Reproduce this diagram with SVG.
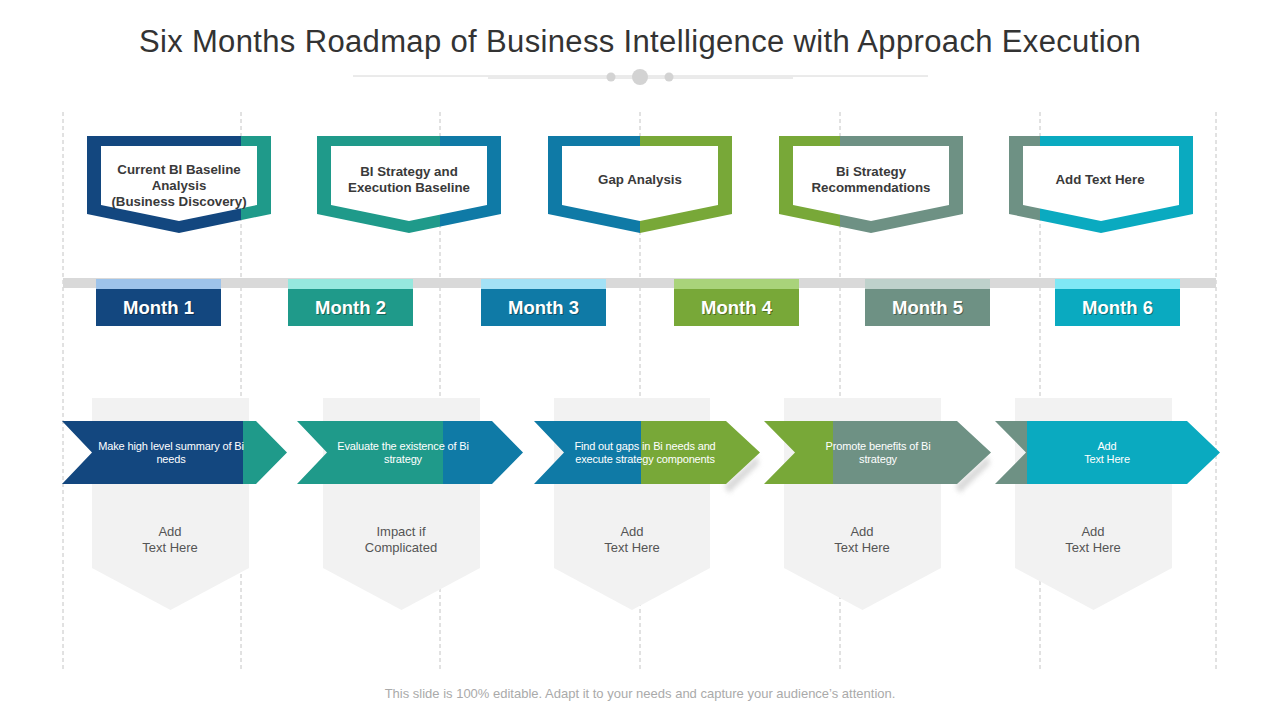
<svg xmlns="http://www.w3.org/2000/svg" width="1280" height="720" viewBox="0 0 1280 720">
<defs>
<style>
.dash{stroke:#c4c4c4;stroke-width:1;stroke-dasharray:4 3;fill:none}
.title{font-family:"Liberation Sans",Arial,sans-serif;font-size:31px;fill:#333;text-anchor:middle;letter-spacing:0.35px}
.btxt{font-family:"Liberation Sans",Arial,sans-serif;font-size:13.3px;font-weight:bold;fill:#3a3a3a;text-anchor:middle}
.mtxt{font-family:"Liberation Sans",Arial,sans-serif;font-size:18.5px;font-weight:bold;fill:#fff;text-anchor:middle}
.mshadow{font-family:"Liberation Sans",Arial,sans-serif;font-size:18.5px;font-weight:bold;fill:#000;opacity:0.35;text-anchor:middle}
.atxt{font-family:"Liberation Sans",Arial,sans-serif;font-size:11px;fill:#fff;text-anchor:middle;letter-spacing:-0.15px}
.gtxt{font-family:"Liberation Sans",Arial,sans-serif;font-size:13px;fill:#555;text-anchor:middle}
.foot{font-family:"Liberation Sans",Arial,sans-serif;font-size:13px;fill:#aaa;text-anchor:middle}
.inner{fill:#fff}
.grey{fill:#f2f2f2}
.deco{stroke:#d6d6d6;stroke-width:1;fill:none}
</style>
<linearGradient id="g1" x1="0" y1="0" x2="1" y2="0"><stop offset="0.837" stop-color="#13477f"/><stop offset="0.837" stop-color="#1f9a8a"/></linearGradient>
<linearGradient id="g2" x1="0" y1="0" x2="1" y2="0"><stop offset="0.668" stop-color="#1f9a8a"/><stop offset="0.668" stop-color="#0f7aa6"/></linearGradient>
<linearGradient id="g3" x1="0" y1="0" x2="1" y2="0"><stop offset="0.5" stop-color="#0f7aa6"/><stop offset="0.5" stop-color="#78a838"/></linearGradient>
<linearGradient id="g4" x1="0" y1="0" x2="1" y2="0"><stop offset="0.332" stop-color="#78a838"/><stop offset="0.332" stop-color="#6e9184"/></linearGradient>
<linearGradient id="g5" x1="0" y1="0" x2="1" y2="0"><stop offset="0.168" stop-color="#6e9184"/><stop offset="0.168" stop-color="#0aaac0"/></linearGradient>
<linearGradient id="a1" x1="0" y1="0" x2="1" y2="0"><stop offset="0.804" stop-color="#13477f"/><stop offset="0.804" stop-color="#1f9a8a"/></linearGradient>
<linearGradient id="a2" x1="0" y1="0" x2="1" y2="0"><stop offset="0.646" stop-color="#1f9a8a"/><stop offset="0.646" stop-color="#0f7aa6"/></linearGradient>
<linearGradient id="a3" x1="0" y1="0" x2="1" y2="0"><stop offset="0.473" stop-color="#0f7aa6"/><stop offset="0.473" stop-color="#78a838"/></linearGradient>
<linearGradient id="a4" x1="0" y1="0" x2="1" y2="0"><stop offset="0.304" stop-color="#78a838"/><stop offset="0.304" stop-color="#6e9184"/></linearGradient>
<linearGradient id="a5" x1="0" y1="0" x2="1" y2="0"><stop offset="0.142" stop-color="#6e9184"/><stop offset="0.142" stop-color="#0aaac0"/></linearGradient>
<filter id="blur" x="-50%" y="-50%" width="200%" height="200%"><feGaussianBlur stdDeviation="2.5"/></filter>
</defs>
<rect width="1280" height="720" fill="#fff"/>

<g id="title">
<text class="title" x="640" y="52">Six Months Roadmap of Business Intelligence with Approach Execution</text>
<line class="deco" x1="353" y1="76" x2="928" y2="76"/>
<line class="deco" x1="488" y1="78" x2="793" y2="78"/>
<circle cx="611" cy="77" r="4.5" fill="#d3d3d3"/>
<circle cx="640" cy="77" r="8" fill="#d3d3d3"/>
<circle cx="669" cy="77" r="4.5" fill="#d3d3d3"/>
</g>

<g id="gridlines">
<line class="dash" x1="63" y1="112" x2="63" y2="670"/>
<line class="dash" x1="241" y1="112" x2="241" y2="670"/>
<line class="dash" x1="440" y1="112" x2="440" y2="670"/>
<line class="dash" x1="640" y1="112" x2="640" y2="670"/>
<line class="dash" x1="840" y1="112" x2="840" y2="670"/>
<line class="dash" x1="1040" y1="112" x2="1040" y2="670"/>
<line class="dash" x1="1216" y1="112" x2="1216" y2="670"/>
</g>

<g id="timeline">
<rect x="63" y="278" width="1153" height="10" fill="#d9d9d9"/>
</g>

<g id="phase1">
<polygon points="87,136 271,136 271,214 179,233 87,214" fill="url(#g1)"/>
<polygon class="inner" points="101,146 257,146 257,205 179,221 101,205"/>
<text class="btxt" x="179" y="174">Current BI Baseline</text>
<text class="btxt" x="179" y="190">Analysis</text>
<text class="btxt" x="179" y="206">(Business  Discovery)</text>
</g>
<g id="phase2">
<polygon points="317,136 501,136 501,214 409,233 317,214" fill="url(#g2)"/>
<polygon class="inner" points="331,146 487,146 487,205 409,221 331,205"/>
<text class="btxt" x="409" y="176">BI Strategy and</text>
<text class="btxt" x="409" y="192">Execution Baseline</text>
</g>
<g id="phase3">
<polygon points="548,136 732,136 732,214 640,233 548,214" fill="url(#g3)"/>
<polygon class="inner" points="562,146 718,146 718,205 640,221 562,205"/>
<text class="btxt" x="640" y="184">Gap Analysis</text>
</g>
<g id="phase4">
<polygon points="779,136 963,136 963,214 871,233 779,214" fill="url(#g4)"/>
<polygon class="inner" points="793,146 949,146 949,205 871,221 793,205"/>
<text class="btxt" x="871" y="176">Bi Strategy</text>
<text class="btxt" x="871" y="192">Recommendations</text>
</g>
<g id="phase5">
<polygon points="1009,136 1193,136 1193,214 1101,233 1009,214" fill="url(#g5)"/>
<polygon class="inner" points="1023,146 1179,146 1179,205 1101,221 1023,205"/>
<text class="btxt" x="1100" y="184">Add Text Here</text>
</g>

<g id="month1">
<rect x="96" y="279" width="125" height="11" fill="#9dc3ea"/>
<rect x="96" y="289" width="125" height="37" fill="#13477f"/>
<text class="mshadow" x="159.5" y="314.5">Month 1</text>
<text class="mtxt" x="158.5" y="313.5">Month 1</text>
</g>
<g id="month2">
<rect x="288" y="279" width="125" height="11" fill="#96e8de"/>
<rect x="288" y="289" width="125" height="37" fill="#1f9a8a"/>
<text class="mshadow" x="351.5" y="314.5">Month 2</text>
<text class="mtxt" x="350.5" y="313.5">Month 2</text>
</g>
<g id="month3">
<rect x="481" y="279" width="125" height="11" fill="#a3e1f5"/>
<rect x="481" y="289" width="125" height="37" fill="#0f7aa6"/>
<text class="mshadow" x="544.5" y="314.5">Month 3</text>
<text class="mtxt" x="543.5" y="313.5">Month 3</text>
</g>
<g id="month4">
<rect x="674" y="279" width="125" height="11" fill="#a9d37a"/>
<rect x="674" y="289" width="125" height="37" fill="#78a838"/>
<text class="mshadow" x="737.5" y="314.5">Month 4</text>
<text class="mtxt" x="736.5" y="313.5">Month 4</text>
</g>
<g id="month5">
<rect x="865" y="279" width="125" height="11" fill="#bed1cb"/>
<rect x="865" y="289" width="125" height="37" fill="#6e9184"/>
<text class="mshadow" x="928.5" y="314.5">Month 5</text>
<text class="mtxt" x="927.5" y="313.5">Month 5</text>
</g>
<g id="month6">
<rect x="1055" y="279" width="125" height="11" fill="#7fe8f5"/>
<rect x="1055" y="289" width="125" height="37" fill="#0aaac0"/>
<text class="mshadow" x="1118.5" y="314.5">Month 6</text>
<text class="mtxt" x="1117.5" y="313.5">Month 6</text>
</g>

<g id="note1">
<polygon class="grey" points="92,398 249,398 249,568 170.5,610 92,568"/>
<text class="gtxt" x="170" y="536">Add</text>
<text class="gtxt" x="170" y="552">Text Here</text>
</g>
<g id="note2">
<polygon class="grey" points="323,398 480,398 480,568 401.5,610 323,568"/>
<text class="gtxt" x="401" y="536">Impact if</text>
<text class="gtxt" x="401" y="552">Complicated</text>
</g>
<g id="note3">
<polygon class="grey" points="554,398 710,398 710,568 632,610 554,568"/>
<text class="gtxt" x="632" y="536">Add</text>
<text class="gtxt" x="632" y="552">Text Here</text>
</g>
<g id="note4">
<polygon class="grey" points="784,398 941,398 941,568 862.5,610 784,568"/>
<text class="gtxt" x="862" y="536">Add</text>
<text class="gtxt" x="862" y="552">Text Here</text>
</g>
<g id="note5">
<polygon class="grey" points="1015,398 1172,398 1172,568 1093.5,610 1015,568"/>
<text class="gtxt" x="1093" y="536">Add</text>
<text class="gtxt" x="1093" y="552">Text Here</text>
</g>

<g id="step1">
<polygon points="62,421 256,421 287,452.5 256,484 62,484 92,452.5" fill="url(#a1)"/>
<text class="atxt" x="171" y="450">Make high level summary of Bi</text>
<text class="atxt" x="171" y="463">needs</text>
</g>
<g id="step2">
<polygon points="297,421 492,421 523,452.5 492,484 297,484 327,452.5" fill="url(#a2)"/>
<text class="atxt" x="403" y="450">Evaluate the existence of Bi</text>
<text class="atxt" x="403" y="463">strategy</text>
</g>
<g id="step3">
<polygon points="724,486 757,456 759,464 729,493" fill="#d0d0d0" opacity="0.8" filter="url(#blur)"/>
<polygon points="534,421 726,421 760,452.5 726,484 534,484 564,452.5" fill="url(#a3)"/>
<text class="atxt" x="645" y="450">Find out gaps in Bi needs and</text>
<text class="atxt" x="645" y="463">execute strategy components</text>
</g>
<g id="step4">
<polygon points="955,486 988,456 990,464 960,493" fill="#d0d0d0" opacity="0.8" filter="url(#blur)"/>
<polygon points="764,421 957,421 991,452.5 957,484 764,484 795,452.5" fill="url(#a4)"/>
<text class="atxt" x="878" y="450">Promote  benefits of Bi</text>
<text class="atxt" x="878" y="463">strategy</text>
</g>
<g id="step5">
<polygon points="995,421 1187,421 1220,452.5 1187,484 995,484 1026,452.5" fill="url(#a5)"/>
<text class="atxt" x="1107" y="450">Add</text>
<text class="atxt" x="1107" y="463">Text Here</text>
</g>

<g id="footer">
<text class="foot" x="640" y="698">This slide is 100% editable. Adapt it to your needs and capture your audience’s attention.</text>
</g>
</svg>
